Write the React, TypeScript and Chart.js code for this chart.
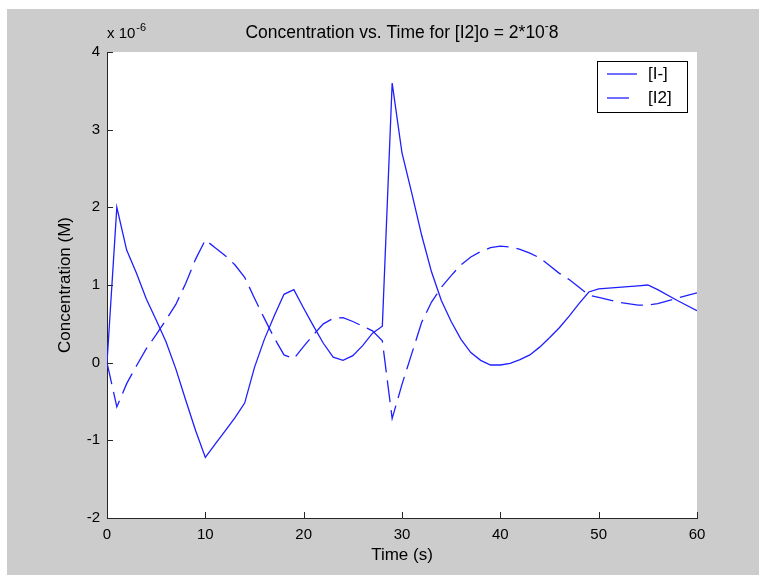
import { useEffect, useRef } from "react";
import { Chart, registerables } from "chart.js";

Chart.register(...registerables);

// Time (s)
const timeS = [0, 1, 2, 3, 4, 5, 6, 7, 8, 9, 10, 11, 12, 13, 14, 15, 16, 17, 18, 19, 20, 21, 22, 23, 24, 25, 26, 27, 28, 29, 30, 31, 32, 33, 34, 35, 36, 37, 38, 39, 40, 41, 42, 43, 44, 45, 46, 47, 48, 49, 50, 52, 54, 55, 56, 58, 60];
// [I-] concentration, in units of 1e-6 M
const iodideE6 = [0, 2.0, 1.45, 1.15, 0.82, 0.55, 0.27, -0.08, -0.48, -0.87, -1.22, -1.05, -0.88, -0.71, -0.52, -0.06, 0.3, 0.6, 0.88, 0.94, 0.7, 0.47, 0.25, 0.07, 0.03, 0.09, 0.22, 0.38, 0.47, 3.6, 2.7, 2.18, 1.64, 1.17, 0.8, 0.53, 0.3, 0.13, 0.03, -0.03, -0.03, -0.01, 0.04, 0.1, 0.2, 0.32, 0.45, 0.6, 0.76, 0.91, 0.95, 0.97, 0.99, 1.0, 0.94, 0.8, 0.67];
// [I2] concentration, in units of 1e-6 M
const iodineE6 = [0, -0.57, -0.27, -0.04, 0.18, 0.36, 0.55, 0.75, 1.02, 1.33, 1.58, 1.48, 1.38, 1.26, 1.1, 0.83, 0.57, 0.32, 0.1, 0.05, 0.21, 0.36, 0.5, 0.57, 0.58, 0.53, 0.47, 0.41, 0.28, -0.72, -0.28, 0.12, 0.52, 0.78, 0.97, 1.12, 1.26, 1.36, 1.43, 1.48, 1.5, 1.49, 1.46, 1.41, 1.35, 1.25, 1.15, 1.07, 0.97, 0.87, 0.84, 0.78, 0.74, 0.74, 0.76, 0.83, 0.9];

const xTicks = [0, 10, 20, 30, 40, 50, 60];
const yTicks = [-2, -1, 0, 1, 2, 3, 4];
const seriesNames = ["[I-]", "[I2]"];

const FONT = "'Liberation Sans', Arial, Helvetica, sans-serif";
const TEXT_SIZE = 17;
const TITLE_SIZE = 17.5;
const TICK_SIZE = 15;
const LINE_COLOR = "#1f1fff";
const AXIS_COLOR = "#262626";
const DASH = [22, 8];

const decorPlugin = {
  id: "decor",
  beforeDraw(chart: any) {
    const { ctx, chartArea: a } = chart;
    ctx.save();
    ctx.fillStyle = "#ffffff";
    ctx.fillRect(a.left, a.top, a.right - a.left, a.bottom - a.top);
    ctx.restore();
  },
  afterDraw(chart: any) {
    const { ctx, chartArea: a } = chart;
    const xs = chart.scales.x;
    const ys = chart.scales.y;
    ctx.save();
    // inward ticks
    ctx.strokeStyle = AXIS_COLOR;
    ctx.lineWidth = 1;
    ctx.beginPath();
    xs.ticks.forEach((t: any) => {
      const px = Math.round(xs.getPixelForValue(t.value)) + 0.5;
      ctx.moveTo(px, a.bottom);
      ctx.lineTo(px, a.bottom - 6);
    });
    ys.ticks.forEach((t: any) => {
      const py = Math.round(ys.getPixelForValue(t.value)) + 0.5;
      ctx.moveTo(a.left, py);
      ctx.lineTo(a.left + 6, py);
    });
    ctx.stroke();

    // title
    ctx.fillStyle = "#000";
    ctx.textBaseline = "middle";
    ctx.textAlign = "left";
    const main = "Concentration vs. Time for [I2]o = 2*10";
    const big = `${TITLE_SIZE}px ${FONT}`;
    const small = `12px ${FONT}`;
    ctx.font = big;
    const wMain = ctx.measureText(main).width;
    ctx.font = small;
    const wSup = ctx.measureText("-").width;
    ctx.font = big;
    const w8 = ctx.measureText("8").width;
    const total = wMain + wSup + w8;
    let tx = (a.left + a.right) / 2 - total / 2;
    const ty = 24;
    ctx.fillText(main, tx, ty);
    tx += wMain;
    ctx.font = small;
    ctx.fillText("-", tx, ty - 6);
    tx += wSup;
    ctx.font = big;
    ctx.fillText("8", tx, ty);

    // exponent label
    ctx.font = `${TICK_SIZE}px ${FONT}`;
    const ex = "x 10";
    ctx.fillText(ex, a.left, 25);
    const wEx = ctx.measureText(ex).width;
    ctx.font = `11px ${FONT}`;
    ctx.fillText("-6", a.left + wEx + 1, 19);

    // legend
    const lx = 590, ly = 52, lw = 90, lh = 51;
    ctx.fillStyle = "#fff";
    ctx.fillRect(lx, ly, lw, lh);
    ctx.strokeStyle = "#000";
    ctx.lineWidth = 1;
    ctx.strokeRect(lx + 0.5, ly + 0.5, lw, lh);
    const rows = [65, 89];
    rows.forEach((ry, i) => {
      ctx.strokeStyle = LINE_COLOR;
      ctx.lineWidth = 1.3;
      ctx.setLineDash(i === 0 ? [] : DASH);
      ctx.beginPath();
      ctx.moveTo(600, ry);
      ctx.lineTo(630, ry);
      ctx.stroke();
      ctx.setLineDash([]);
      ctx.fillStyle = "#000";
      ctx.font = `${TEXT_SIZE}px ${FONT}`;
      ctx.textAlign = "left";
      ctx.fillText(seriesNames[i], 641, ry);
    });
    ctx.restore();
  },
};

export default function App() {
  const ref = useRef<HTMLCanvasElement | null>(null);
  useEffect(() => {
    if (!ref.current) return;
    const chart = new Chart(ref.current, {
      type: "line",
      data: {
        datasets: [
          {
            label: seriesNames[0],
            data: timeS.map((t, i) => ({ x: t, y: iodideE6[i] })),
            borderColor: LINE_COLOR,
            borderWidth: 1.3,
            pointRadius: 0,
            tension: 0,
            fill: false,
          },
          {
            label: seriesNames[1],
            data: timeS.map((t, i) => ({ x: t, y: iodineE6[i] })),
            borderColor: LINE_COLOR,
            borderWidth: 1.3,
            borderDash: DASH,
            pointRadius: 0,
            tension: 0,
            fill: false,
          },
        ],
      },
      options: {
        animation: false,
        responsive: false,
        events: [],
        layout: { padding: { left: 0, top: 43, right: 62, bottom: 0 } },
        plugins: {
          legend: { display: false },
          title: { display: false },
          tooltip: { enabled: false },
        },
        scales: {
          x: {
            type: "linear",
            min: 0,
            max: 60,
            afterFit: (s: any) => { s.height = 57; },
            afterBuildTicks: (s: any) => { s.ticks = xTicks.map((v) => ({ value: v })); },
            ticks: { color: "#000", font: { family: FONT, size: TICK_SIZE }, padding: 8, maxRotation: 0 },
            grid: { display: true, drawOnChartArea: false, drawTicks: false },
            border: { display: true, color: AXIS_COLOR, width: 1 },
            title: { display: true, text: "Time (s)", color: "#000", font: { family: FONT, size: TEXT_SIZE }, padding: { top: 0, bottom: 9.8 } },
          },
          y: {
            type: "linear",
            min: -2,
            max: 4,
            afterFit: (s: any) => { s.width = 100; },
            afterBuildTicks: (s: any) => { s.ticks = yTicks.map((v) => ({ value: v })); },
            ticks: { color: "#000", font: { family: FONT, size: TICK_SIZE }, padding: 7 },
            grid: { display: true, drawOnChartArea: false, drawTicks: false },
            border: { display: true, color: AXIS_COLOR, width: 1 },
            title: { display: true, text: "Concentration (M)", color: "#000", font: { family: FONT, size: TEXT_SIZE }, padding: { top: 47.8, bottom: 0 } },
          },
        },
      },
      plugins: [decorPlugin],
    });
    return () => chart.destroy();
  }, []);
  return (
    <div style={{ position: "absolute", left: 7, top: 9, width: 752, height: 566, background: "#cccccc" }}>
      <canvas ref={ref} width={752} height={566} style={{ display: "block", width: 752, height: 566 }} />
    </div>
  );
}
